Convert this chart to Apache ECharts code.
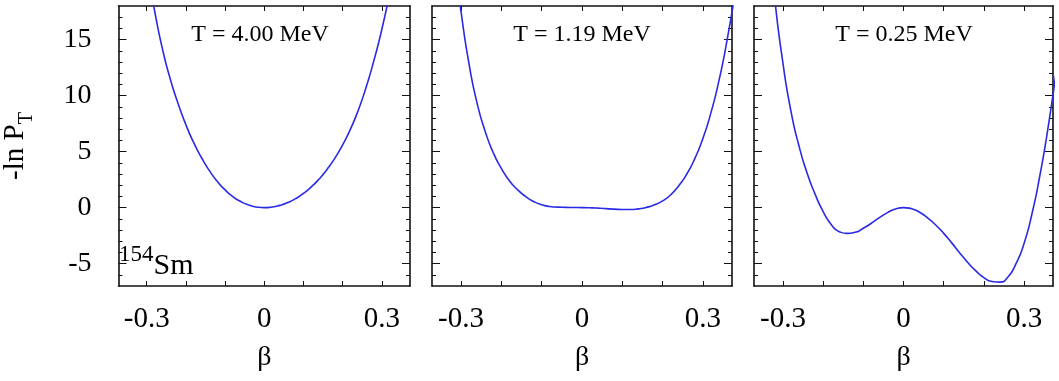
<!DOCTYPE html>
<html>
<head>
<meta charset="utf-8">
<script src="https://cdn.jsdelivr.net/npm/echarts@6/dist/echarts.min.js"></script>
<style>
html, body { margin: 0; padding: 0; background: #fff; }
#chart { width: 1059px; height: 381px; }
</style>
</head>
<body>
<div id="chart"></div>
<script>
// panel titles
const temperatures = ['T = 4.00 MeV', 'T = 1.19 MeV', 'T = 0.25 MeV']

// T = 4.00 MeV
const beta1 = [-0.30, -0.28, -0.26, -0.24, -0.22, -0.20, -0.18, -0.16, -0.14, -0.12, -0.10, -0.08, -0.06, -0.04, -0.02, 0,
  0.02, 0.04, 0.06, 0.08, 0.10, 0.12, 0.14, 0.16, 0.18, 0.20, 0.22, 0.24, 0.26, 0.28, 0.30, 0.32]
const lnP1 = [21.4, 17.6, 14.2, 11.5, 9.3, 7.4, 5.8, 4.45, 3.3, 2.35, 1.58, 0.98, 0.54, 0.23, 0.06, 0,
  0.05, 0.2, 0.45, 0.8, 1.27, 1.85, 2.55, 3.4, 4.4, 5.6, 7.0, 8.7, 10.75, 13.15, 15.9, 19.1]

// T = 1.19 MeV
const beta2 = [-0.32, -0.30, -0.28, -0.26, -0.24, -0.22, -0.20, -0.18, -0.16, -0.14, -0.12, -0.10, -0.08, -0.06, -0.04, -0.02, 0,
  0.02, 0.04, 0.06, 0.08, 0.10, 0.12, 0.14, 0.16, 0.18, 0.20, 0.22, 0.24, 0.26, 0.28, 0.30, 0.32, 0.34, 0.36, 0.38]
const lnP2 = [23.0, 17.5, 12.8, 9.3, 6.8, 4.9, 3.5, 2.4, 1.6, 1.0, 0.55, 0.25, 0.1, 0.04, 0.02, 0.01, 0,
  -0.02, -0.05, -0.09, -0.14, -0.17, -0.17, -0.11, 0.02, 0.25, 0.6, 1.15, 1.95, 3.0, 4.4, 6.2, 8.5, 11.4, 15.0, 19.3]

// T = 0.25 MeV
const beta3 = [-0.34, -0.32, -0.30, -0.28, -0.26, -0.24, -0.22, -0.20, -0.18, -0.16, -0.14, -0.12, -0.10, -0.08, -0.06, -0.04, -0.02, 0,
  0.02, 0.04, 0.06, 0.08, 0.10, 0.12, 0.14, 0.16, 0.18, 0.20, 0.22, 0.24, 0.26, 0.28, 0.30, 0.32, 0.34, 0.36, 0.38]
const lnP3 = [25.5, 18.5, 12.9, 8.6, 5.5, 3.1, 1.2, -0.35, -1.5, -2.15, -2.3, -2.2, -1.85, -1.4, -0.9, -0.45, -0.12, 0,
  -0.1, -0.42, -0.92, -1.55, -2.3, -3.15, -4.05, -4.9, -5.65, -6.25, -6.6, -6.65, -6.2, -5.0, -3.2, -0.5, 3.0, 7.2, 12.2]

// tick labels
const xTicks = [-0.3, -0.2, -0.1, 0, 0.1, 0.2, 0.3]
const xLabels = [-0.3, 0, 0.3]
const yMajor = [-5, 0, 5, 10, 15]
const yMinor = [-6, -4, -3, -2, -1, 1, 2, 3, 4, 6, 7, 8, 9, 11, 12, 13, 14, 16, 17]

const panels = [
  { beta: beta1, lnP: lnP1 },
  { beta: beta2, lnP: lnP2 },
  { beta: beta3, lnP: lnP3 }
]

const font = 'Liberation Serif, Times New Roman, serif'
const lefts = [110, 432, 754]
const X_MIN = -0.372, X_MAX = 0.372
const Y_MIN = -7, Y_MAX = 18
const axisColor = '#111'

const chart = echarts.init(document.getElementById('chart'))

const grid = [], xAxis = [], yAxis = [], series = [], graphic = []

panels.forEach((p, i) => {
  grid.push({ left: lefts[i], top: 6, width: i === 2 ? 299 : 300, height: 280 })

  const lineStyle = { color: axisColor, width: 1.6 }
  const tickStyle = { color: axisColor, width: 1 }
  // bottom axis with labels
  xAxis.push({
    type: 'value', gridIndex: i, min: X_MIN, max: X_MAX, position: 'bottom',
    axisLine: { show: true, onZero: false, lineStyle },
    axisTick: { show: true, inside: true, length: 5, customValues: xTicks, lineStyle: tickStyle },
    axisLabel: {
      customValues: xLabels, margin: 19, color: '#000', fontFamily: font, fontSize: 29,
      formatter: v => (Math.abs(v) < 1e-9 ? '0' : v.toFixed(1))
    },
    splitLine: { show: false },
    name: 'β', nameLocation: 'middle', nameGap: 58,
    nameTextStyle: { color: '#000', fontFamily: font, fontSize: 28 }
  })
  // top mirror
  xAxis.push({
    type: 'value', gridIndex: i, min: X_MIN, max: X_MAX, position: 'top',
    axisLine: { show: true, onZero: false, lineStyle },
    axisTick: { show: true, inside: true, length: 5, customValues: xTicks, lineStyle: tickStyle },
    axisLabel: { show: false },
    splitLine: { show: false }
  })

  const yBase = { type: 'value', gridIndex: i, min: Y_MIN, max: Y_MAX, splitLine: { show: false } }
  // left major
  yAxis.push(Object.assign({}, yBase, {
    position: 'left',
    axisLine: { show: true, onZero: false, lineStyle },
    axisTick: { show: true, inside: true, length: 8, customValues: yMajor, lineStyle: tickStyle },
    axisLabel: {
      show: i === 0, customValues: yMajor, margin: 27, color: '#000', fontFamily: font, fontSize: 28
    },
    name: i === 0 ? '{b|-ln P}{s|T}' : '', nameLocation: 'middle', nameGap: 82,
    nameTextStyle: {
      color: '#000', fontFamily: font,
      rich: {
        b: { fontFamily: font, fontSize: 29, lineHeight: 42, color: '#000' },
        s: { fontFamily: font, fontSize: 20, lineHeight: 20, verticalAlign: 'bottom', color: '#000' }
      }
    }
  }))
  // left minor
  yAxis.push(Object.assign({}, yBase, {
    position: 'left',
    axisLine: { show: false, onZero: false },
    axisTick: { show: true, inside: true, length: 4, customValues: yMinor, lineStyle: tickStyle },
    axisLabel: { show: false }
  }))
  // right major
  yAxis.push(Object.assign({}, yBase, {
    position: 'right',
    axisLine: { show: true, onZero: false, lineStyle },
    axisTick: { show: true, inside: true, length: 8, customValues: yMajor, lineStyle: tickStyle },
    axisLabel: { show: false }
  }))
  // right minor
  yAxis.push(Object.assign({}, yBase, {
    position: 'right',
    axisLine: { show: false, onZero: false },
    axisTick: { show: true, inside: true, length: 4, customValues: yMinor, lineStyle: tickStyle },
    axisLabel: { show: false }
  }))

  series.push({
    type: 'line',
    xAxisIndex: i * 2,
    yAxisIndex: i * 4,
    data: p.beta.map((b, k) => [b, p.lnP[k]]),
    smooth: 0.6,
    showSymbol: false,
    clip: true,
    lineStyle: { color: '#2a2ae6', width: 1.6 },
    z: 1
  })

  graphic.push({
    type: 'text',
    x: lefts[i] + 150,
    y: 35,
    style: {
      text: temperatures[i], fill: '#000', font: '24px ' + font,
      align: 'center', verticalAlign: 'middle'
    }
  })
})

graphic.push({
  type: 'text',
  left: 119,
  top: 243,
  style: {
    text: '{s|154}{b|Sm}',
    fill: '#000',
    rich: {
      s: { fontFamily: font, fontSize: 23, lineHeight: 22, verticalAlign: 'top', fill: '#000' },
      b: { fontFamily: font, fontSize: 30, lineHeight: 46, fill: '#000' }
    }
  }
})

chart.setOption({
  animation: false,
  backgroundColor: '#fff',
  grid, xAxis, yAxis, series, graphic
})
</script>
</body>
</html>
